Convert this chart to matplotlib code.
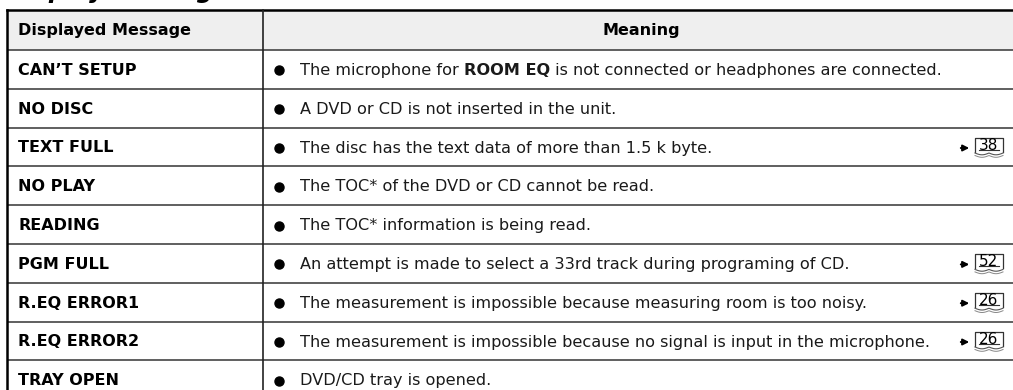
import matplotlib.pyplot as plt
from matplotlib.patches import Rectangle
import numpy as np

plt.rcParams['font.family'] = ['DejaVu Sans']

# table content
header = ["Displayed Message", "Meaning"]
messages = ["CAN\u2019T SETUP", "NO DISC", "TEXT FULL", "NO PLAY", "READING",
            "PGM FULL", "R.EQ ERROR1", "R.EQ ERROR2", "TRAY OPEN"]
meanings = [
    "The microphone for ROOM EQ is not connected or headphones are connected.",
    "A DVD or CD is not inserted in the unit.",
    "The disc has the text data of more than 1.5 k byte.",
    "The TOC* of the DVD or CD cannot be read.",
    "The TOC* information is being read.",
    "An attempt is made to select a 33rd track during programing of CD.",
    "The measurement is impossible because measuring room is too noisy.",
    "The measurement is impossible because no signal is input in the microphone.",
    "DVD/CD tray is opened.",
]
bold_words = ["ROOM EQ", None, None, None, None, None, None, None, None]
page_refs = [None, None, "38", None, None, "52", "26", "26", None]

W, H = 1013, 390
fig = plt.figure(figsize=(W / 100, H / 100), dpi=100)
ax = fig.add_axes([0, 0, 1, 1])
ax.set_xlim(0, W)
ax.set_ylim(H, 0)
ax.axis('off')

left, right, divx = 7, 1019, 263
top, head_bot, row_h = 10, 50, 38.8
n = len(messages)
bottom = head_bot + n * row_h

# header band
ax.add_patch(Rectangle((left, top), right - left, head_bot - top, facecolor='#efefef', edgecolor='none'))

# lines
for i in range(n):
    y = head_bot + i * row_h
    ax.plot([left, right], [y, y], color='#444444', lw=1.2, solid_capstyle='butt')
ax.plot([left, right], [top, top], color='black', lw=1.8)
ax.plot([left, left], [top, bottom], color='black', lw=1.8)
ax.plot([divx, divx], [top, bottom], color='#222222', lw=1.2)
ax.plot([right, right], [top, bottom], color='black', lw=1.8)

fs = 11.6
# title, mostly cut off at the top
ax.text(7, -2, "Display Messages", fontsize=17, fontweight='bold', style='italic',
        ha='left', va='baseline')

ax.text(18, 31, header[0], fontsize=11.5, fontweight='bold', va='center', ha='left')
ax.text((divx + right) / 2, 31, header[1], fontsize=11.5, fontweight='bold', va='center', ha='center')

fig.canvas.draw()
rend = fig.canvas.get_renderer()
inv = ax.transData.inverted()


def put(x, y, s, **kw):
    t = ax.text(x, y, s, fontsize=fs, va='center', ha='left', color='#1a1a1a', **kw)
    bb = t.get_window_extent(renderer=rend)
    return inv.transform((bb.x1, bb.y0))[0]


for i, (msg, mean) in enumerate(zip(messages, meanings)):
    yc = head_bot + (i + 0.5) * row_h + 1
    ax.text(18, yc, msg, fontsize=11.5, fontweight='bold', va='center', ha='left')
    ax.plot(279, yc, 'o', color='black', ms=6.5)
    bw = bold_words[i]
    if bw:
        a, b = mean.split(bw)
        x = put(300, yc, a)
        x = put(x, yc, bw, fontweight='bold')
        put(x, yc, b)
    else:
        put(300, yc, mean)
    ref = page_refs[i]
    if ref:
        # arrow
        ax.annotate('', xy=(972, yc), xytext=(958, yc),
                    arrowprops=dict(arrowstyle='-|>', color='black', lw=1.4, mutation_scale=9))
        # book icon
        bx0, bx1 = 975, 1003
        ax.plot([bx0, bx0, bx1, bx1], [yc + 4, yc - 10, yc - 10, yc + 4], color='#333333', lw=0.9)
        xs = np.linspace(bx0, bx1, 40)
        arc = 1.8 * np.abs(np.sin((xs - bx0) / (bx1 - bx0) * 2 * np.pi))
        ax.plot(xs, yc + 5 + arc, color='#555555', lw=0.8)
        ax.plot(xs, yc + 7.5 + arc, color='#888888', lw=0.7)
        ax.plot([bx0 + 4, bx1 - 4], [yc + 2, yc + 2], color='#333333', lw=0.8)
        ax.text((bx0 + bx1) / 2, yc - 3, ref, fontsize=11, ha='center', va='center', color='black')

fig.savefig('out.png', dpi=100)
